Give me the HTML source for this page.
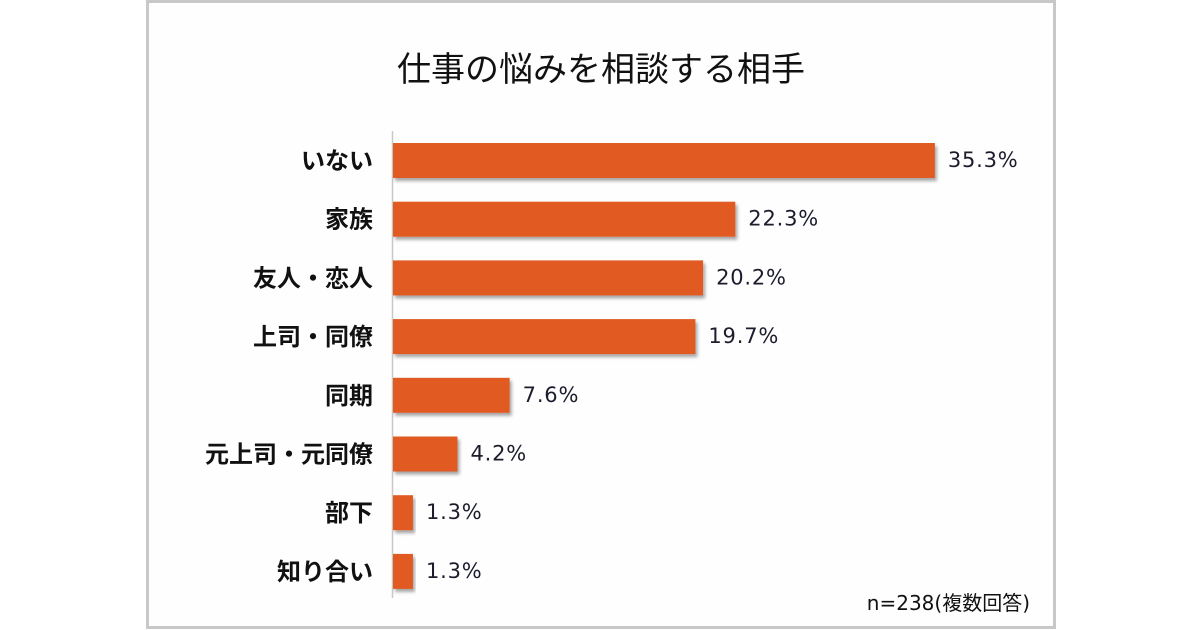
<!DOCTYPE html>
<html><head><meta charset="utf-8"><style>
body{margin:0;background:#fff;width:1200px;height:630px;overflow:hidden;font-family:"Liberation Sans","Noto Sans CJK JP",sans-serif}
#frame{position:absolute;left:146px;top:0;width:904px;height:623px;border:3px solid #c8c8c8;background:#fdfefd}
</style></head><body>
<div id="frame"></div>
<svg id="chart" width="1200" height="630" style="position:absolute;left:0;top:0">
<defs><filter id="sh" x="-5%" y="-10%" width="120%" height="140%"><feDropShadow dx="2" dy="3" stdDeviation="1.5" flood-color="#000" flood-opacity="0.35"/></filter></defs>
<text x="601" y="81" text-anchor="middle" font-size="34" fill="#111">仕事の悩みを相談する相手</text>
<line x1="392.5" y1="131" x2="392.5" y2="598" stroke="#c8c8c8" stroke-width="1.5"/>
<g id="bars"></g>
<text x="1030" y="610" text-anchor="end" font-size="20" fill="#111" font-family="DejaVu Sans,'Noto Sans CJK JP',sans-serif">n=238(複数回答)</text>
</svg>
<script>
const categories=["いない","家族","友人・恋人","上司・同僚","同期","元上司・元同僚","部下","知り合い"];
const values=[35.3,22.3,20.2,19.7,7.6,4.2,1.3,1.3];
const valueLabels=["35.3%","22.3%","20.2%","19.7%","7.6%","4.2%","1.3%","1.3%"];
const x=v=>393+v*15.35;
const y=i=>143+i*58.7;
const g=document.getElementById('bars');
const NS='http://www.w3.org/2000/svg';
categories.forEach((c,i)=>{
 const r=document.createElementNS(NS,'rect');
 r.setAttribute('x',393);r.setAttribute('y',y(i));
 r.setAttribute('width',x(values[i])-393);r.setAttribute('height',35);
 r.setAttribute('fill','#e05a24');r.setAttribute('filter','url(#sh)');
 
 
 g.appendChild(r);
 const t=document.createElementNS(NS,'text');
 t.setAttribute('x',373);t.setAttribute('y',y(i)+26);t.setAttribute('text-anchor','end');
 t.setAttribute('font-size','24');t.setAttribute('font-weight','bold');t.setAttribute('fill','#111');
 t.textContent=c;
 
 
 g.appendChild(t);
 const v=document.createElementNS(NS,'text');
 v.setAttribute('x',x(values[i])+13);v.setAttribute('y',y(i)+24);
 v.setAttribute('font-size','21');v.setAttribute('fill','#1c1c2c');
 v.setAttribute('font-family','DejaVu Sans,sans-serif');
 v.setAttribute('letter-spacing','0.8');
 v.textContent=valueLabels[i];
 
 
 g.appendChild(v);
});
</script>
</body></html>
